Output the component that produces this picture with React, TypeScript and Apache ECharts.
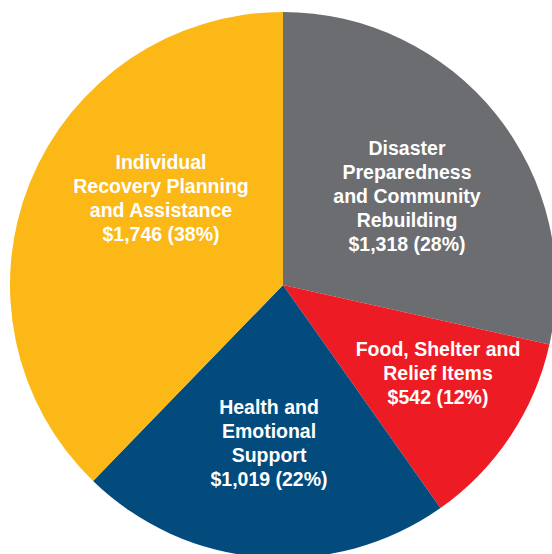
import React, { useEffect, useRef } from "react";
import * as echarts from "echarts";

const categories = [
  "Disaster\nPreparedness\nand Community\nRebuilding",
  "Food, Shelter and\nRelief Items",
  "Health and\nEmotional\nSupport",
  "Individual\nRecovery Planning\nand Assistance",
];
const values = [1318, 542, 1019, 1746];
const percents = [28, 12, 22, 38];
const colors = ["#6C6D71", "#ED1C24", "#034B7D", "#FBB817"];
const labelPositions = [
  [407, 196],
  [438, 373],
  [269, 443],
  [161, 198],
];

export default function App() {
  const ref = useRef<HTMLDivElement>(null);
  useEffect(() => {
    if (!ref.current) return;
    const chart = echarts.init(ref.current, undefined, { renderer: "svg" });
    chart.setOption({
      animation: false,
      series: [
        {
          type: "pie",
          center: [283, 285],
          radius: 273,
          startAngle: 90,
          clockwise: true,
          avoidLabelOverlap: false,
          labelLine: { show: false },
          itemStyle: { borderWidth: 0 },
          emphasis: { disabled: true },
          label: {
            show: true,
            position: "inside",
            color: "#ffffff",
            fontFamily: "'Liberation Sans', Arial, Helvetica, sans-serif",
            fontWeight: "bold",
            fontSize: 19.5,
            lineHeight: 24,
            align: "center",
            formatter: (p: any) =>
              `${p.name}\n$${values[p.dataIndex].toLocaleString("en-US")} (${percents[p.dataIndex]}%)`,
          },
          labelLayout: (p: any) => ({
            x: labelPositions[p.dataIndex][0],
            y: labelPositions[p.dataIndex][1],
            align: "center",
            verticalAlign: "middle",
          }),
          data: categories.map((c, i) => ({
            name: c,
            value: values[i],
            itemStyle: { color: colors[i] },
          })),
        },
      ],
    });
    return () => chart.dispose();
  }, []);
  return (
    <div
      ref={ref}
      style={{ position: "fixed", left: 0, top: 0, width: 552, height: 554, background: "#ffffff" }}
    />
  );
}
